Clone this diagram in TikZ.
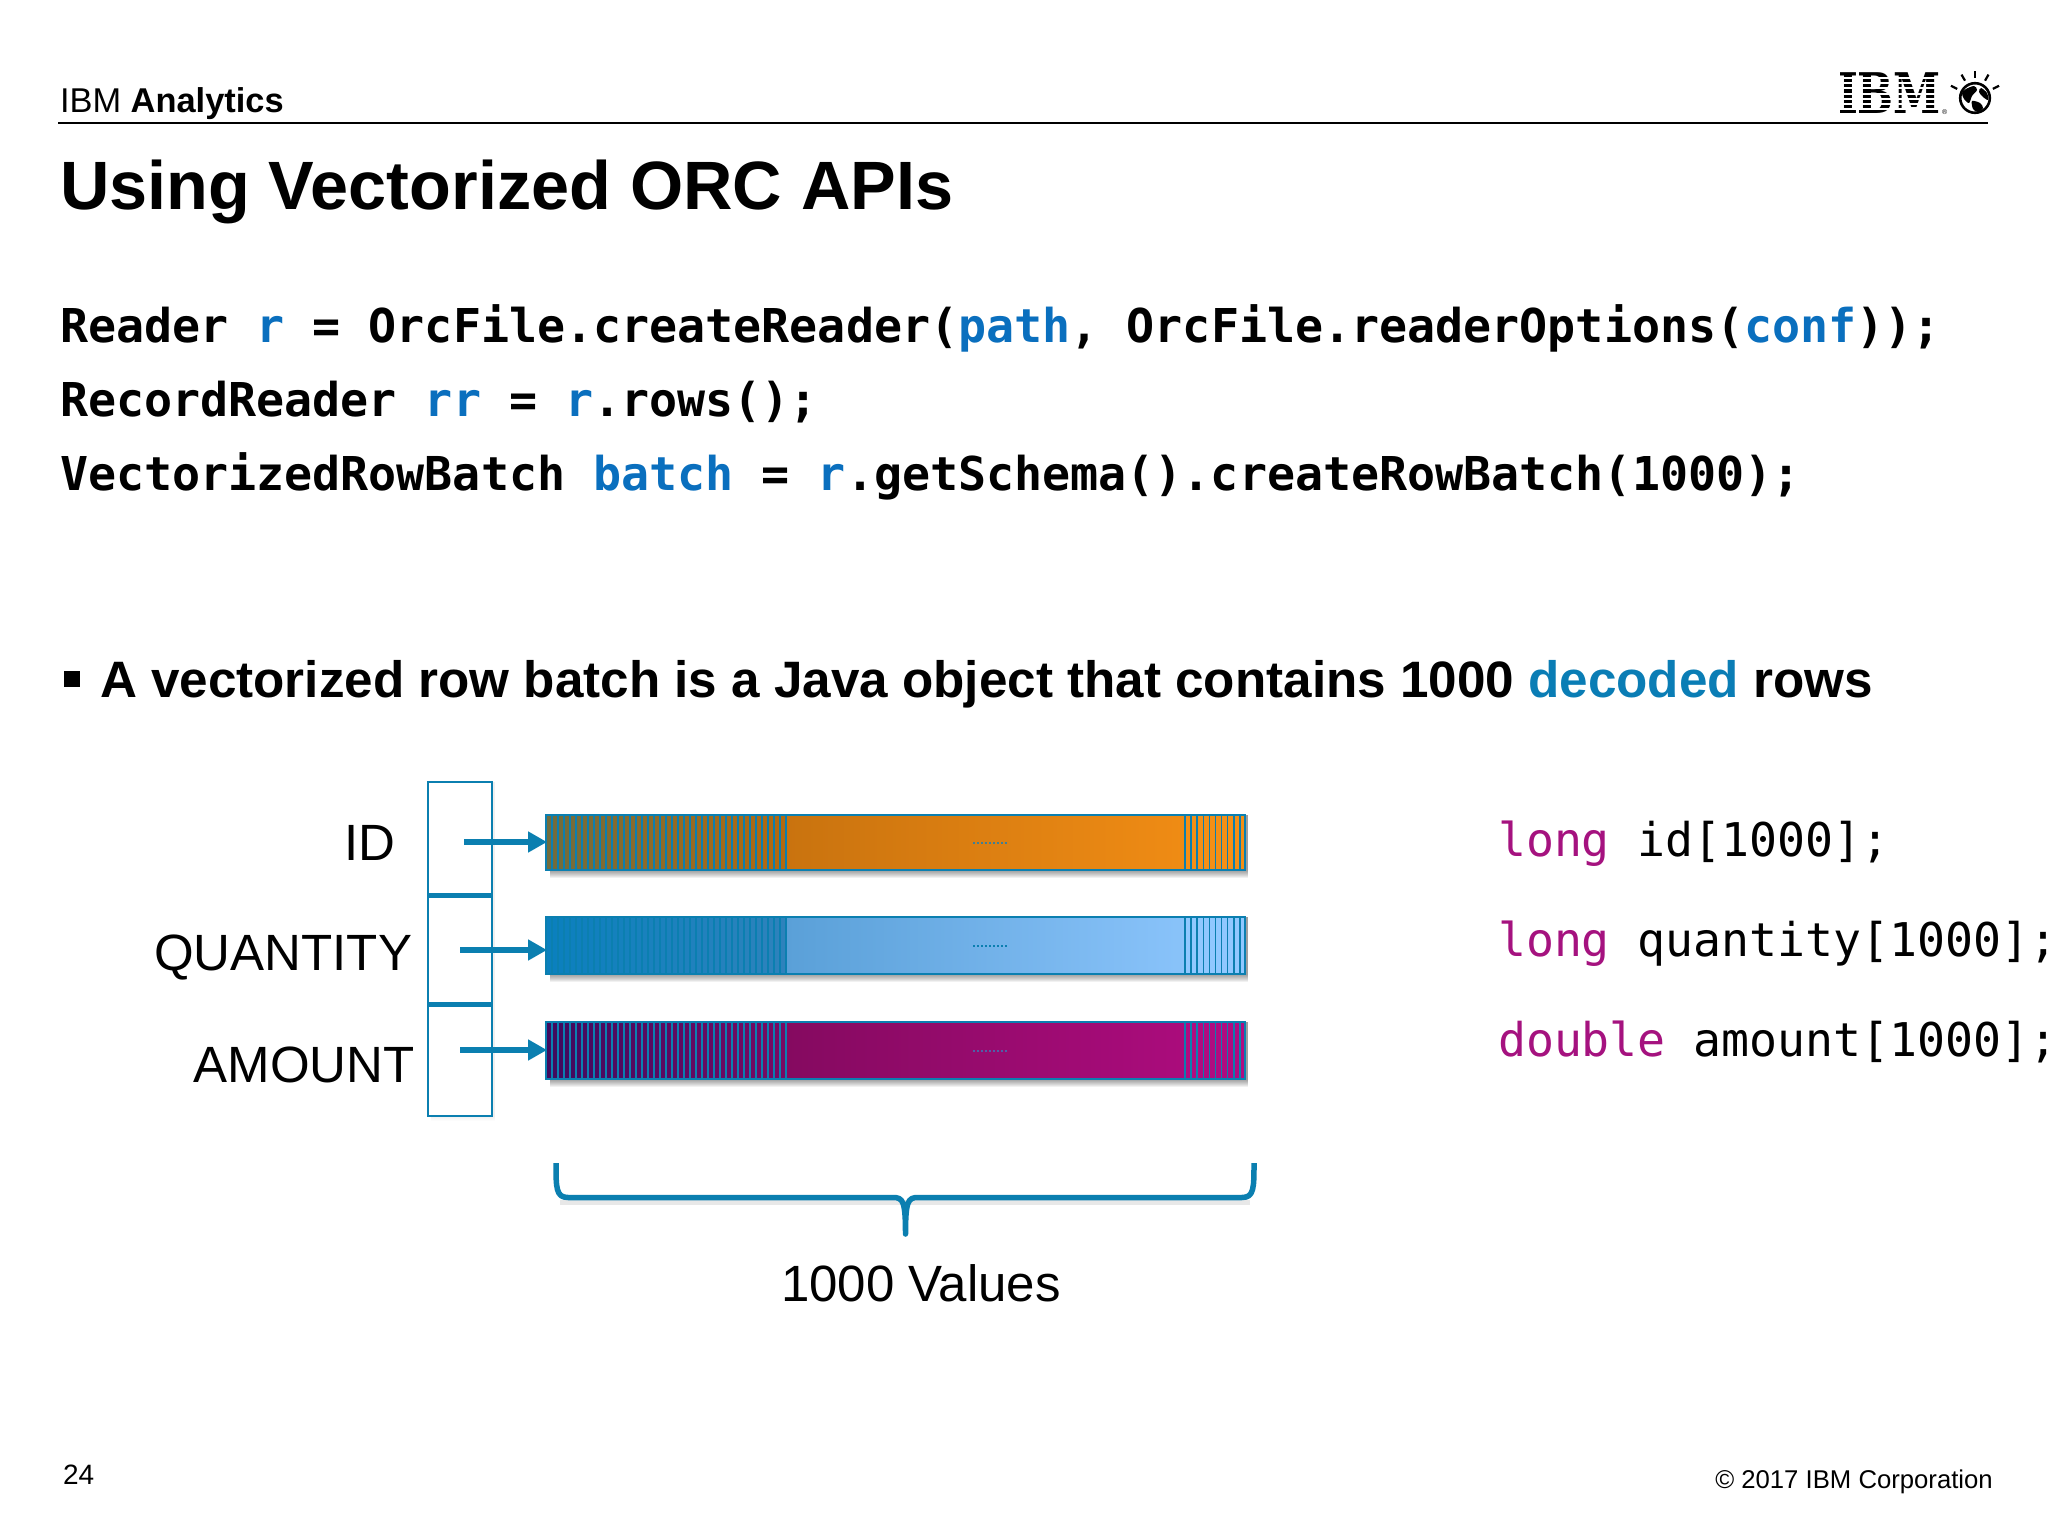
\documentclass[tikz,border=0pt]{standalone}
\usepackage{fontspec}
\setmainfont{Liberation Sans}
\newfontfamily\codefont{DejaVu Sans Mono}
\newfontfamily\logofont{DejaVu Serif}
\usetikzlibrary{arrows.meta}
\definecolor{ibmblue}{HTML}{0B7FB0}
\definecolor{varblue}{HTML}{0A6FBE}
\definecolor{decblue}{HTML}{0A7DB5}
\definecolor{kwpink}{HTML}{A5127F}
\definecolor{oa}{HTML}{6F6C3E}\definecolor{ob}{HTML}{B5690E}\definecolor{oc}{HTML}{C9730F}\definecolor{od}{HTML}{F58F15}\definecolor{oe}{HTML}{3F7F95}
\definecolor{ba}{HTML}{0A80BE}\definecolor{bb}{HTML}{2E82BC}\definecolor{bc}{HTML}{5AA0D8}\definecolor{bd}{HTML}{90C8FF}\definecolor{be}{HTML}{0B7FB0}
\definecolor{pa}{HTML}{3F0A5E}\definecolor{pb}{HTML}{7A0A62}\definecolor{pc}{HTML}{850A60}\definecolor{pd}{HTML}{B00C80}\definecolor{pe}{HTML}{4F60A8}
\newcommand{\fsz}[1]{\fontsize{#1}{#1}\selectfont}
\newcommand{\vb}[1]{\textcolor{varblue}{#1}}
% #1 name, #2 top, #3 bottom, #4-#7 gradient stops, #8 dots colour
\newcommand{\databar}[8]{%
  \foreach \s in {1,...,8}{\fill[black,opacity=.055] (549.5,#2) rectangle (1247.5,#3+\s);}
  \shade[left color=#4,right color=#5] (546,#2) rectangle (786,#3);
  \shade[left color=#6,right color=#7] (786,#2) rectangle (1245,#3);
  \fill[#7] (1185,#2) rectangle (1245,#3);
  \foreach \k in {0,...,39}{\draw[stripeline] ({546+\k*6},#2) -- ({546+\k*6},#3);}
  \foreach \k in {0,...,9}{\draw[stripeline] ({1185+\k*6.1},#2) -- ({1185+\k*6.1},#3);}
  \draw[ibmblue,line width=1.5pt] (786,#2) -- (786,#3);
  \draw[#8,line width=2pt,dash pattern=on 2pt off 2pt] (973,{(#2+#3)/2}) -- (1008,{(#2+#3)/2});
  \node[barframe,minimum height={#3-#2}] (#1) at (895.5,{(#2+#3)/2}) {};
}
\tikzset{
  txt/.style={anchor=base west,inner sep=0pt,outer sep=0pt,text=black},
  head/.style={txt,font=\fsz{34.4}},
  codeb/.style={txt,font=\codefont\bfseries\fsz{46.63}},
  code/.style={txt,font=\codefont\fsz{46.5}},
  lab/.style={anchor=base east,inner sep=0pt,outer sep=0pt,font=\fsz{51}},
  stripeline/.style={ibmblue,line width=1.5pt},
  barframe/.style={draw=ibmblue,line width=1.8pt,minimum width=699pt,inner sep=0pt,outer sep=0pt},
  cell/.style={draw=ibmblue,line width=2pt,minimum width=64pt,inner sep=0pt,outer sep=0pt,anchor=north west,fill=white},
  ptr/.style={ibmblue,line width=5.5pt,-{Triangle[length=19pt,width=20pt]},shorten >=-1pt},
}
\begin{document}
\begin{tikzpicture}[x=1pt,y=-1pt]
\useasboundingbox (0,0) rectangle (2048,1536);
\fill[white] (0,0) rectangle (2048,1536);
% header
\node[head] (hdr) at (60,113) {IBM \textbf{Analytics}};
\draw[black,line width=2pt] (58,123) -- (1988,123);
% logo
\node[txt,font=\logofont\bfseries\fsz{56},xscale=.76] (ibm) at (1838,114) {IBM};
\foreach \k in {1,...,7}{\fill[white] (1835,{73+\k*5.15-1.0}) rectangle (1943,{73+\k*5.15+1.0});}
\node[txt,font=\fsz{7}] (reg) at (1942,115) {®};
\draw[black,line width=2.6pt,fill=white] (1975,98) circle (14.8);
\fill[black] plot[smooth cycle] coordinates {(1966,89) (1974,86) (1977,90) (1972,96) (1969,103) (1964,99) (1962,93)};
\fill[black] plot[smooth cycle] coordinates {(1972,101) (1980,103) (1983,108) (1978,112) (1973,109)};
\fill[black] plot[smooth cycle] coordinates {(1981,88) (1987,93) (1988,100) (1983,97) (1979,92)};
\foreach \a in {90,60,120,27,153}{\draw[black,line width=2.2pt] ({1975+20*cos(\a)},{98-20*sin(\a)}) -- ({1975+27*cos(\a)},{98-27*sin(\a)});}
% title
\node[txt,font=\bfseries\fsz{68.4}] (title) at (60,209.5) {Using Vectorized ORC APIs};
% code
\node[codeb] (c1) at (60,342.5) {Reader \vb{r} = OrcFile.createReader(\vb{path}, OrcFile.readerOptions(\vb{conf}));};
\node[codeb] (c2) at (60,416.5) {RecordReader \vb{rr} = \vb{r}.rows();};
\node[codeb] (c3) at (60,490.5) {VectorizedRowBatch \vb{batch} = \vb{r}.getSchema().createRowBatch(1000);};
% bullet
\fill[black] (64,671) rectangle (80,687);
\node[txt,font=\bfseries\fsz{51.2}] (bul) at (100,697) {A vectorized row batch is a Java object that contains 1000 \textcolor{decblue}{decoded} rows};
% labels
\node[lab] (lid) at (395,860) {ID};
\node[lab] (lqty) at (412,970.5) {QUANTITY};
\node[lab] (lamt) at (414.5,1082.5) {AMOUNT};
% pointer cells
\foreach \s in {1,...,5}{\fill[black,opacity=.012] (431,782) rectangle (495,1116+\s);}
\node[cell,minimum height=113pt] (p1) at (428,782) {};
\node[cell,minimum height=109pt] (p2) at (428,895) {};
\node[cell,minimum height=112pt] (p3) at (428,1004) {};
\draw[ibmblue,line width=5pt] (p1.south west) -- (p1.south east);
\draw[ibmblue,line width=5pt] (p2.south west) -- (p2.south east);
% bars
\databar{bar1}{815}{870}{oa}{ob}{oc}{od}{oe}
\databar{bar2}{917}{974}{ba}{bb}{bc}{bd}{be}
\databar{bar3}{1022}{1079}{pa}{pb}{pc}{pd}{pe}
% arrows
\coordinate (a1) at (464,842);
\coordinate (a2) at (460,950);
\coordinate (a3) at (460,1050);
\draw[ptr] (a1) -- (bar1.west |- a1);
\draw[ptr] (a2) -- (bar2.west |- a2);
\draw[ptr] (a3) -- (bar3.west |- a3);
% brace
\draw[black!25,line width=5pt,opacity=.35] (560,1202.5) -- (1250,1202.5);
\draw[ibmblue,line width=5.5pt,line join=round] (556,1163) .. controls (556,1188) and (556,1197.5) .. (568,1197.5) -- (893,1197.5) .. controls (903,1197.5) and (905.5,1201) .. (905.5,1234) .. controls (905.5,1201) and (908,1197.5) .. (918,1197.5) -- (1242,1197.5) .. controls (1254,1197.5) and (1254,1188) .. (1254,1163);
\node[txt,font=\fsz{51}] (vals) at (781,1301) {1000 Values};
% right code
\node[code] (r1) at (1498,856) {\textcolor{kwpink}{long} id[1000];};
\node[code] (r2) at (1498,956) {\textcolor{kwpink}{long} quantity[1000];};
\node[code] (r3) at (1498,1056) {\textcolor{kwpink}{double} amount[1000];};
% footer
\node[txt,font=\fsz{28}] (pg) at (63,1484.5) {24};
\node[anchor=base east,inner sep=0pt,font=\fsz{25.7}] (copy) at (1993,1488) {© 2017 IBM Corporation};
\end{tikzpicture}
\end{document}
